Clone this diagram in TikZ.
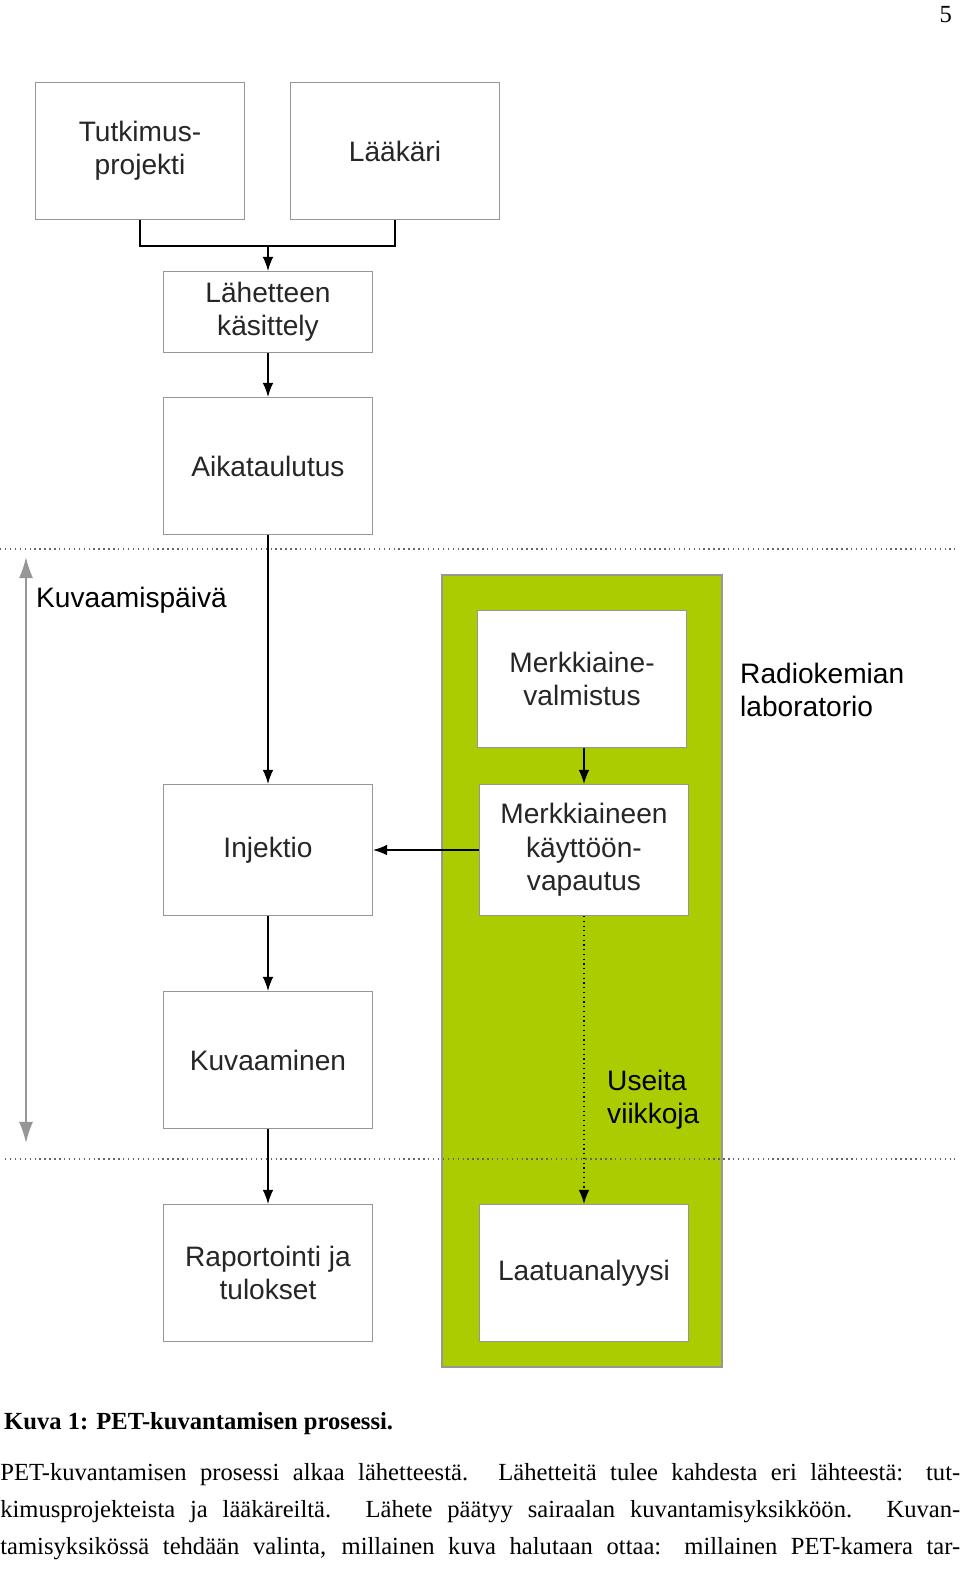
\documentclass[tikz,border=0pt]{standalone}
\usepackage{fontspec}
\setmainfont{Liberation Serif}
\newfontfamily\diagfont{Liberation Sans}
\usetikzlibrary{arrows.meta}
\definecolor{labgreen}{RGB}{170,204,0}
\definecolor{boxgray}{RGB}{150,150,150}
\tikzset{
  stepbox/.style={draw=boxgray,fill=white,minimum width=4.18cm,minimum height=2.74cm,
    align=center,font=\diagfont\fontsize{16}{19}\selectfont,text=black!85,line width=0.6pt},
  flow/.style={-{Latex[length=8pt,width=6pt]},line width=0.7pt},
  sep/.style={dotted,line width=0.8pt,black!60},
  lbl/.style={font=\diagfont\fontsize{16}{19}\selectfont,align=left,anchor=west}
}
\begin{document}
\begin{tikzpicture}[x=0.02cm,y=-0.02cm]
\useasboundingbox (0,0) rectangle (960,1570);

% Page number
\node[anchor=north east,font=\fontsize{14}{16}\selectfont] (page) at (958,0) {5};

% Radiochemistry lab background
\draw[boxgray,fill=labgreen,line width=0.6pt] (442,575) rectangle (722,1367);

% Separators
\draw[sep] (0,549) -- (955,549);
\draw[sep] (5,1159) -- (955,1159);

% Boxes
\node[stepbox] (tutk) at (140,151) {Tutkimus-\\projekti};
\node[stepbox] (laak) at (395,151) {Lääkäri};
\node[stepbox,minimum height=1.62cm] (lah) at (268,312) {Lähetteen\\käsittely};
\node[stepbox] (aika) at (268,466) {Aikataulutus};
\node[stepbox,minimum height=2.62cm] (inj) at (268,850) {Injektio};
\node[stepbox] (kuva) at (268,1060) {Kuvaaminen};
\node[stepbox] (rap) at (268,1273) {Raportointi ja\\tulokset};
\node[stepbox] (valm) at (582,679) {Merkkiaine-\\valmistus};
\node[stepbox,minimum height=2.62cm] (vap) at (584,850) {Merkkiaineen\\käyttöön-\\vapautus};
\node[stepbox] (laatu) at (584,1273) {Laatuanalyysi};

% Connectors
\coordinate (join) at (268,246);
\draw[line width=0.7pt] (tutk.south) |- (join) -| (laak.south);
\draw[flow] (join) -- (lah.north);
\draw[flow] (lah) -- (aika);
\draw[flow] (aika) -- (inj);
\draw[flow] (inj) -- (kuva);
\draw[flow] (kuva) -- (rap);
\draw[flow] (valm.south -| vap.north) -- (vap.north);
\draw[flow] (vap) -- (inj);
\draw[flow,dotted] (vap) -- (laatu);

% Labels
\coordinate (dtop) at (26,557);
\coordinate (dbot) at (26,1143);
\draw[boxgray,line width=1pt,{Latex[length=12pt,width=8pt]}-{Latex[length=12pt,width=8pt]}] (dtop) -- (dbot);
\node[lbl] (day) at (30,600) {Kuvaamispäivä};
\node[lbl] (lab) at (734,690) {Radiokemian\\laboratorio};
\node[lbl] (weeks) at (601,1100) {Useita\\viikkoja};

% Caption and text
\node[anchor=west,font=\bfseries\fontsize{14}{16}\selectfont] (cap) at (-2,1424) {Kuva 1: PET-kuvantamisen prosessi.};
\node[anchor=west,font=\fontsize{14}{16}\selectfont,inner xsep=0pt] (l1) at (0,1475) {\makebox[19.2cm][s]{PET-kuvantamisen prosessi alkaa lähetteestä. Lähetteitä tulee kahdesta eri lähteestä: tut-}};
\node[anchor=west,font=\fontsize{14}{16}\selectfont,inner xsep=0pt] (l2) at (0,1512) {\makebox[19.2cm][s]{kimusprojekteista ja lääkäreiltä. Lähete päätyy sairaalan kuvantamisyksikköön. Kuvan-}};
\node[anchor=west,font=\fontsize{14}{16}\selectfont,inner xsep=0pt] (l3) at (0,1549) {\makebox[19.2cm][s]{tamisyksikössä tehdään valinta, millainen kuva halutaan ottaa: millainen PET-kamera tar-}};
\end{tikzpicture}
\end{document}
